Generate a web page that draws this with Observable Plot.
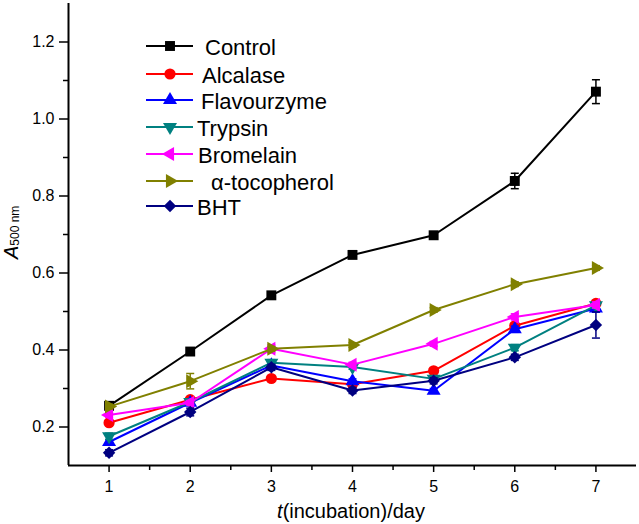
<!DOCTYPE html>
<html><head><meta charset="utf-8">
<script src="https://cdn.jsdelivr.net/npm/d3@7"></script>
<script src="https://cdn.jsdelivr.net/npm/@observablehq/plot@0.6"></script>
<style>
body{margin:0;background:#fff}
#chart{position:relative;width:639px;height:524px}
</style>
</head><body><div id="chart"></div>
<script>
// ---------- data ----------
const days = [1, 2, 3, 4, 5, 6, 7];
const seriesNames = ["Control", "Alcalase", "Flavourzyme", "Trypsin", "Bromelain", "α-tocopherol", "BHT"];

const control     = [0.255, 0.396, 0.542, 0.647, 0.698, 0.839, 1.071];
const alcalase    = [0.211, 0.271, 0.326, 0.311, 0.346, 0.463, 0.521];
const flavourzyme = [0.161, 0.263, 0.360, 0.319, 0.294, 0.454, 0.508];
const trypsin     = [0.176, 0.265, 0.367, 0.356, 0.325, 0.406, 0.516];
const bromelain   = [0.231, 0.263, 0.403, 0.362, 0.416, 0.486, 0.517];
const tocopherol  = [0.253, 0.319, 0.403, 0.413, 0.504, 0.571, 0.613];
const bht         = [0.133, 0.239, 0.355, 0.295, 0.320, 0.381, 0.465];

const controlErr     = [0.010, 0.008, 0.006, 0.006, 0.006, 0.020, 0.031];
const alcalaseErr    = [0.006, 0.006, 0.006, 0.006, 0.006, 0.008, 0.008];
const flavourzymeErr = [0.006, 0.006, 0.008, 0.006, 0.006, 0.008, 0.010];
const trypsinErr     = [0.008, 0.006, 0.008, 0.006, 0.008, 0.008, 0.008];
const bromelainErr   = [0.006, 0.006, 0.010, 0.006, 0.006, 0.008, 0.008];
const tocopherolErr  = [0.006, 0.020, 0.006, 0.006, 0.006, 0.006, 0.006];
const bhtErr         = [0.008, 0.010, 0.008, 0.008, 0.008, 0.008, 0.034];

const xTicks = [1, 2, 3, 4, 5, 6, 7];
const xMinorTicks = [1.5, 2.5, 3.5, 4.5, 5.5, 6.5];
const yTicks = [0.2, 0.4, 0.6, 0.8, 1.0, 1.2];
const yMinorTicks = [0.3, 0.5, 0.7, 0.9, 1.1];

// ---------- styling ----------
const values = [control, alcalase, flavourzyme, trypsin, bromelain, tocopherol, bht];
const errors = [controlErr, alcalaseErr, flavourzymeErr, trypsinErr, bromelainErr, tocopherolErr, bhtErr];
const colors = ["#000000", "#ff0000", "#0000ff", "#008080", "#ff00ff", "#808000", "#000080"];
const symbols = ["square", "circle", "triangle", "triangle", "triangle", "triangle", "diamond2"];
const rotations = [0, 0, 0, 180, -90, 90, 0];
const radii = [5.6, 5.6, 5.2, 5.2, 5.2, 5.2, 5.6];

const rows = seriesNames.map((name, i) =>
  days.map((d, j) => ({name, day: d, v: values[i][j], e: errors[i][j]})));

const capSymbol = {draw(ctx, size) { ctx.moveTo(-4, 0); ctx.lineTo(4, 0); }};

const seriesMarks = rows.flatMap((data, i) => [
  Plot.line(data, {x: "day", y: "v", stroke: colors[i], strokeWidth: 2}),
  Plot.ruleX(data, {x: "day", y1: d => d.v - d.e, y2: d => d.v + d.e, stroke: colors[i], strokeWidth: 1.5}),
  Plot.dot(data, {x: "day", y: d => d.v + d.e, symbol: capSymbol, r: 4, stroke: colors[i], strokeWidth: 1.5, fill: "none"}),
  Plot.dot(data, {x: "day", y: d => d.v - d.e, symbol: capSymbol, r: 4, stroke: colors[i], strokeWidth: 1.5, fill: "none"}),
  Plot.dot(data, {x: "day", y: "v", symbol: symbols[i], r: radii[i], fill: colors[i], stroke: "none", rotate: rotations[i]})
]);

const plot = Plot.plot({
  width: 639,
  height: 524,
  marginLeft: 68,
  marginRight: 3,
  marginTop: 3,
  marginBottom: 59,
  x: {domain: [0.5, 7.5]},
  y: {domain: [0.1, 1.3]},
  style: {fontFamily: "'Liberation Sans', Arial, sans-serif", fontSize: "16px", background: "white", color: "#000", overflow: "visible"},
  marks: [
    Plot.axisX(xTicks, {tickSize: 7, tickPadding: 8, tickFormat: d => d, label: null, strokeWidth: 1.5, fontSize: 16}),
    Plot.axisX(xMinorTicks, {tickSize: 5, tickFormat: () => "", label: null, strokeWidth: 1.5}),
    Plot.axisY(yTicks, {tickSize: 9, tickPadding: 5, tickFormat: d3.format(".1f"), label: null, strokeWidth: 1.5, fontSize: 16}),
    Plot.axisY(yMinorTicks, {tickSize: 5, tickFormat: () => "", label: null, strokeWidth: 1.5}),
    Plot.ruleX([0.5], {strokeWidth: 2}),
    Plot.ruleY([0.1], {strokeWidth: 2}),
    ...seriesMarks
  ]
});

document.getElementById("chart").appendChild(plot);

// ---------- axis titles (rich text) ----------
const svg = d3.select(plot);
const fam = "'Liberation Sans', Arial, sans-serif";

const xt = svg.append("text")
  .attr("x", 351).attr("y", 518)
  .attr("text-anchor", "middle")
  .attr("font-family", fam).attr("font-size", 20).attr("fill", "#000");
xt.append("tspan").attr("font-style", "italic").text("t");
xt.append("tspan").text("(incubation)/day");

const yt = svg.append("text")
  .attr("transform", "translate(18,259) rotate(-90)")
  .attr("text-anchor", "start")
  .attr("font-family", fam).attr("font-size", 20).attr("fill", "#000");
yt.append("tspan").attr("font-style", "italic").text("A");
yt.append("tspan").attr("font-size", 12).attr("dy", 1).text("500 nm");

// ---------- legend ----------
const legendRowY = [46, 74, 100, 127, 154, 181, 206];
const legendTextX = [205, 202, 201, 197, 198, 211, 197];
const symbolTypes = {square: d3.symbolSquare, circle: d3.symbolCircle, triangle: d3.symbolTriangle, diamond2: d3.symbolDiamond2};
const lg = svg.append("g");
seriesNames.forEach((name, i) => {
  const y = legendRowY[i];
  lg.append("line").attr("x1", 146).attr("x2", 193).attr("y1", y).attr("y2", y)
    .attr("stroke", colors[i]).attr("stroke-width", 2);
  lg.append("path")
    .attr("d", d3.symbol(symbolTypes[symbols[i]], Math.PI * radii[i] * radii[i])())
    .attr("transform", `translate(170,${y}) rotate(${rotations[i]})`)
    .attr("fill", colors[i]);
  lg.append("text").attr("x", legendTextX[i]).attr("y", y + 8.5)
    .attr("text-anchor", "start")
    .attr("font-family", fam).attr("font-size", 22).attr("fill", "#000")
    .text(name);
});
</script>
</body></html>
